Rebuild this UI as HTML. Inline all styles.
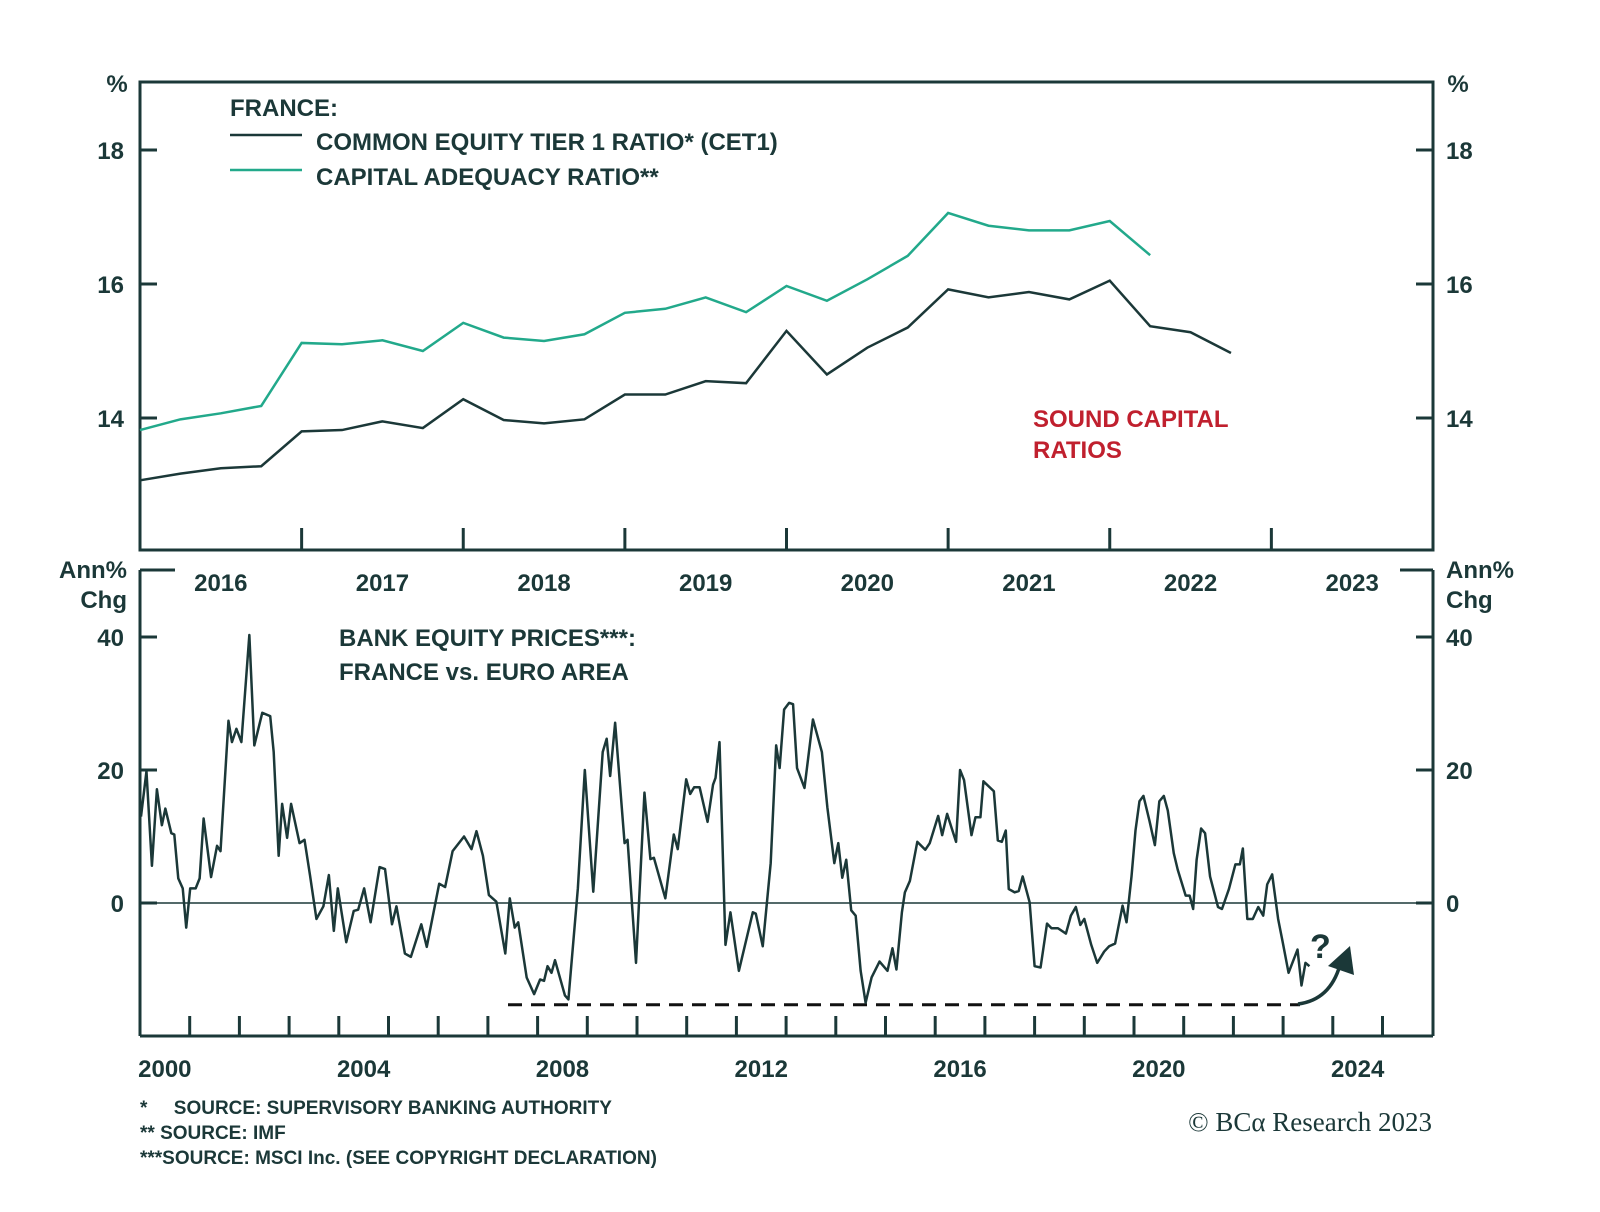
<!DOCTYPE html>
<html><head><meta charset="utf-8"><style>
html,body{margin:0;padding:0;background:#fff;}
svg{display:block;font-family:"Liberation Sans",sans-serif;}
.t{fill:#1b3838;font-weight:bold;}
</style></head><body>
<svg id="chart" width="1600" height="1212" viewBox="0 0 1600 1212" xmlns="http://www.w3.org/2000/svg">
<g id="topPanel"></g>
<g id="botPanel"></g>
<g>
<text class="t" x="230" y="116" font-size="24">FRANCE:</text>
<line x1="230" y1="135" x2="302" y2="135" stroke="#1b3838" stroke-width="2.5"/>
<text class="t" x="316" y="150" font-size="24">COMMON EQUITY TIER 1 RATIO* (CET1)</text>
<line x1="230" y1="170" x2="302" y2="170" stroke="#22a98b" stroke-width="2.5"/>
<text class="t" x="316" y="185" font-size="24">CAPITAL ADEQUACY RATIO**</text>
</g>
<text x="1033" y="427" font-size="24" font-weight="bold" fill="#c0202e">SOUND CAPITAL</text>
<text x="1033" y="458" font-size="24" font-weight="bold" fill="#c0202e">RATIOS</text>
<text class="t" x="339" y="646" font-size="24">BANK EQUITY PRICES***:</text>
<text class="t" x="339" y="680" font-size="24">FRANCE vs. EURO AREA</text>
<text class="t" x="140" y="1114" font-size="19" style="white-space:pre">*     SOURCE: SUPERVISORY BANKING AUTHORITY</text>
<text class="t" x="140" y="1139" font-size="19">** SOURCE: IMF</text>
<text class="t" x="140" y="1164" font-size="19">***SOURCE: MSCI Inc. (SEE COPYRIGHT DECLARATION)</text>
<text x="1432" y="1131" text-anchor="end" font-size="27" fill="#1b3838" font-family="Liberation Serif, serif">© BCα Research 2023</text>
</svg>
<script>
const topYears=['2016','2017','2018','2019','2020','2021','2022','2023'];
const topTicks=[14,16,18];
const cet1=[13.07,13.17,13.25,13.28,13.8,13.82,13.95,13.85,14.28,13.97,13.92,13.98,14.35,14.35,14.55,14.52,15.3,14.65,15.05,15.35,15.92,15.8,15.88,15.77,16.05,15.37,15.28,14.97];
const car=[13.82,13.98,14.07,14.18,15.12,15.1,15.16,15.0,15.42,15.2,15.15,15.25,15.57,15.63,15.8,15.58,15.97,15.75,16.07,16.42,17.06,16.87,16.8,16.8,16.94,16.43];
const botYears=['2000','2004','2008','2012','2016','2020','2024'];
const botTicks=[0,20,40];
const eqDates=[2000.02,2000.13,2000.24,2000.34,2000.44,2000.51,2000.63,2000.69,2000.77,2000.86,2000.93,2001.01,2001.12,2001.20,2001.28,2001.43,2001.55,2001.62,2001.78,2001.85,2001.94,2002.04,2002.20,2002.30,2002.46,2002.62,2002.69,2002.79,2002.86,2002.96,2003.04,2003.21,2003.31,2003.42,2003.55,2003.69,2003.80,2003.90,2003.98,2004.15,2004.30,2004.39,2004.51,2004.64,2004.82,2004.93,2005.07,2005.16,2005.33,2005.45,2005.66,2005.77,2006.02,2006.14,2006.29,2006.52,2006.67,2006.77,2006.90,2007.02,2007.17,2007.35,2007.44,2007.54,2007.61,2007.78,2007.93,2008.05,2008.13,2008.20,2008.28,2008.35,2008.55,2008.62,2008.81,2008.95,2009.12,2009.31,2009.39,2009.46,2009.56,2009.75,2009.81,2009.98,2010.15,2010.27,2010.34,2010.57,2010.74,2010.82,2010.99,2011.07,2011.15,2011.26,2011.42,2011.53,2011.58,2011.66,2011.78,2011.88,2012.05,2012.33,2012.39,2012.53,2012.69,2012.80,2012.87,2012.96,2013.06,2013.14,2013.22,2013.37,2013.54,2013.72,2013.83,2013.97,2014.05,2014.13,2014.21,2014.31,2014.40,2014.50,2014.60,2014.72,2014.88,2015.04,2015.14,2015.22,2015.33,2015.39,2015.49,2015.64,2015.80,2015.89,2016.06,2016.14,2016.24,2016.42,2016.50,2016.58,2016.73,2016.81,2016.91,2016.97,2017.18,2017.26,2017.34,2017.42,2017.48,2017.60,2017.68,2017.76,2017.90,2018.00,2018.12,2018.25,2018.34,2018.47,2018.63,2018.73,2018.83,2018.92,2019.00,2019.14,2019.26,2019.40,2019.50,2019.62,2019.77,2019.85,2019.95,2020.03,2020.11,2020.19,2020.31,2020.42,2020.51,2020.60,2020.68,2020.80,2020.88,2021.04,2021.12,2021.19,2021.26,2021.35,2021.43,2021.53,2021.69,2021.77,2021.91,2022.04,2022.13,2022.19,2022.28,2022.39,2022.50,2022.60,2022.68,2022.78,2022.90,2022.99,2023.11,2023.29,2023.37,2023.45,2023.53];
const eqValues=[13.0,19.8,5.6,17.1,11.7,14.2,10.5,10.3,3.7,2.2,-3.7,2.2,2.2,3.7,12.7,3.9,8.6,7.8,27.4,24.2,26.2,24.2,40.3,23.7,28.6,28.1,22.7,7.1,14.9,9.8,14.9,9.0,9.5,4.2,-2.4,-0.5,4.2,-4.2,2.2,-5.9,-1.2,-1.0,2.2,-2.9,5.4,5.1,-3.2,-0.5,-7.6,-8.1,-3.2,-6.6,2.9,2.4,7.8,10.0,8.1,10.8,7.1,1.2,0.2,-7.6,0.7,-3.7,-2.9,-11.2,-13.7,-11.5,-11.7,-9.5,-10.5,-8.6,-13.9,-14.5,2.2,20.0,1.7,22.7,24.7,19.1,27.1,9.0,9.5,-9.0,16.6,6.6,6.8,0.7,10.3,8.1,18.6,16.4,17.4,17.4,12.2,17.8,18.8,24.2,-6.3,-1.4,-10.2,-1.4,-1.6,-6.5,6.0,23.7,20.3,29.1,30.1,29.9,20.3,17.3,27.6,22.7,14.4,6.0,9.0,3.8,6.5,-1.1,-1.9,-10.2,-15.0,-11.2,-8.8,-10.2,-6.8,-10.0,-1.4,1.6,3.3,9.2,8.0,9.0,13.1,10.2,13.4,9.2,20.0,18.5,10.2,12.9,12.9,18.3,16.8,9.4,9.2,10.9,2.1,1.6,1.8,4.0,0.1,-9.5,-9.7,-3.1,-3.8,-3.8,-4.6,-1.9,-0.6,-3.3,-2.4,-6.3,-9.0,-7.3,-6.5,-6.1,-0.4,-2.9,4.0,10.9,15.3,16.1,12.4,8.7,15.3,16.1,13.9,7.5,5.0,1.1,1.1,-0.9,6.5,11.2,10.5,4.0,-0.6,-0.9,2.1,5.8,5.8,8.2,-2.4,-2.4,-0.6,-1.9,2.8,4.3,-2.4,-5.8,-10.5,-7.0,-12.4,-9.0,-9.5];
const floorValue=-15.3;

const NS='http://www.w3.org/2000/svg';
const C='#1b3838';
function mk(parent,tag,attrs,text){const e=document.createElementNS(NS,tag);for(const k in attrs)e.setAttribute(k,attrs[k]);if(text!==undefined)e.textContent=text;parent.appendChild(e);return e;}
const L=140,R=1433;
const tx=i=>L+i*(R-L)/32;
const ty=v=>150+(18-v)*67;
const topG=document.getElementById('topPanel');
const tf=mk(topG,'rect',{x:L,y:82,width:R-L,height:468,fill:'none',stroke:C,'stroke-width':3});


topTicks.forEach(v=>{
  const y=ty(v);
  const a=mk(topG,'line',{x1:L,y1:y,x2:L+17,y2:y,stroke:C,'stroke-width':3});
  
  
  const b=mk(topG,'line',{x1:R-17,y1:y,x2:R,y2:y,stroke:C,'stroke-width':3});
  
  
  const t1=mk(topG,'text',{x:124,y:y+9,'text-anchor':'end','font-size':24,class:'t'},String(v));
  
  
  const t2=mk(topG,'text',{x:1446,y:y+9,'font-size':24,class:'t'},String(v));
  
  
});
const p1=mk(topG,'text',{x:117,y:92,'text-anchor':'middle','font-size':24,class:'t'},'%');


const p2=mk(topG,'text',{x:1458,y:92,'text-anchor':'middle','font-size':24,class:'t'},'%');


topYears.forEach((yr,i)=>{
  if(i>0){const tk=mk(topG,'line',{x1:tx(i*4),y1:528,x2:tx(i*4),y2:550,stroke:C,'stroke-width':3});
    
    }
  const t=mk(topG,'text',{x:tx(i*4+2),y:591,'text-anchor':'middle','font-size':24,class:'t'},yr);
  
  
});
const carLine=mk(topG,'polyline',{points:car.map((v,i)=>tx(i)+','+ty(v)).join(' '),fill:'none',stroke:'#22a98b','stroke-width':2.5});


const cetLine=mk(topG,'polyline',{points:cet1.map((v,i)=>tx(i)+','+ty(v)).join(' '),fill:'none',stroke:C,'stroke-width':2.5});



const bx=t=>L+(t-2000)*49.7;
const by=v=>903-v*6.65;
const botG=document.getElementById('botPanel');
const bl=[[L,570,L,1036],[R,570,R,1036],[L,1036,R,1036],[L,570,175,570],[1400,570,R,570]];
bl.forEach(s=>{const e=mk(botG,'line',{x1:s[0],y1:s[1],x2:s[2],y2:s[3],stroke:C,'stroke-width':3});
  
  });
const zl=mk(botG,'line',{x1:L,y1:by(0),x2:R,y2:by(0),stroke:C,'stroke-width':1.5});


botTicks.forEach(v=>{
  const y=by(v);
  const a=mk(botG,'line',{x1:L,y1:y,x2:L+17,y2:y,stroke:C,'stroke-width':3});
  
  
  const b=mk(botG,'line',{x1:R-17,y1:y,x2:R,y2:y,stroke:C,'stroke-width':3});
  
  
  const t1=mk(botG,'text',{x:124,y:y+9,'text-anchor':'end','font-size':24,class:'t'},String(v));
  
  
  const t2=mk(botG,'text',{x:1446,y:y+9,'font-size':24,class:'t'},String(v));
  
  
});
[['Ann%',578],['Chg',608]].forEach(a=>{
  const t=mk(botG,'text',{x:127,y:a[1],'text-anchor':'end','font-size':24,class:'t'},a[0]);
  
  
  const u=mk(botG,'text',{x:1446,y:a[1],'font-size':24,class:'t'},a[0]);
  
  
});
for(let y=2001;y<=2025;y++){
  const tk=mk(botG,'line',{x1:bx(y),y1:1016,x2:bx(y),y2:1036,stroke:C,'stroke-width':3});
  
  
}
botYears.forEach(yr=>{
  const t=mk(botG,'text',{x:bx(+yr+0.5),y:1077,'text-anchor':'middle','font-size':24,class:'t'},yr);
  
  
});
const dash=mk(botG,'line',{x1:508,y1:by(floorValue),x2:1300,y2:by(floorValue),stroke:'#111','stroke-width':3,'stroke-dasharray':'14,9'});


const eq=mk(botG,'polyline',{points:eqDates.map((t,i)=>bx(t)+','+by(eqValues[i])).join(' '),fill:'none',stroke:C,'stroke-width':2.5,'stroke-linejoin':'round'});


const arr=mk(botG,'path',{d:'M1298,1004 Q1330,1000 1340,965',fill:'none',stroke:C,'stroke-width':3.5});


const ah=mk(botG,'polygon',{points:'1350,946 1354,975 1328,966',fill:C});


const q=mk(botG,'text',{x:1310,y:958,'font-size':34,class:'t'},'?');


</script>
</body></html>
